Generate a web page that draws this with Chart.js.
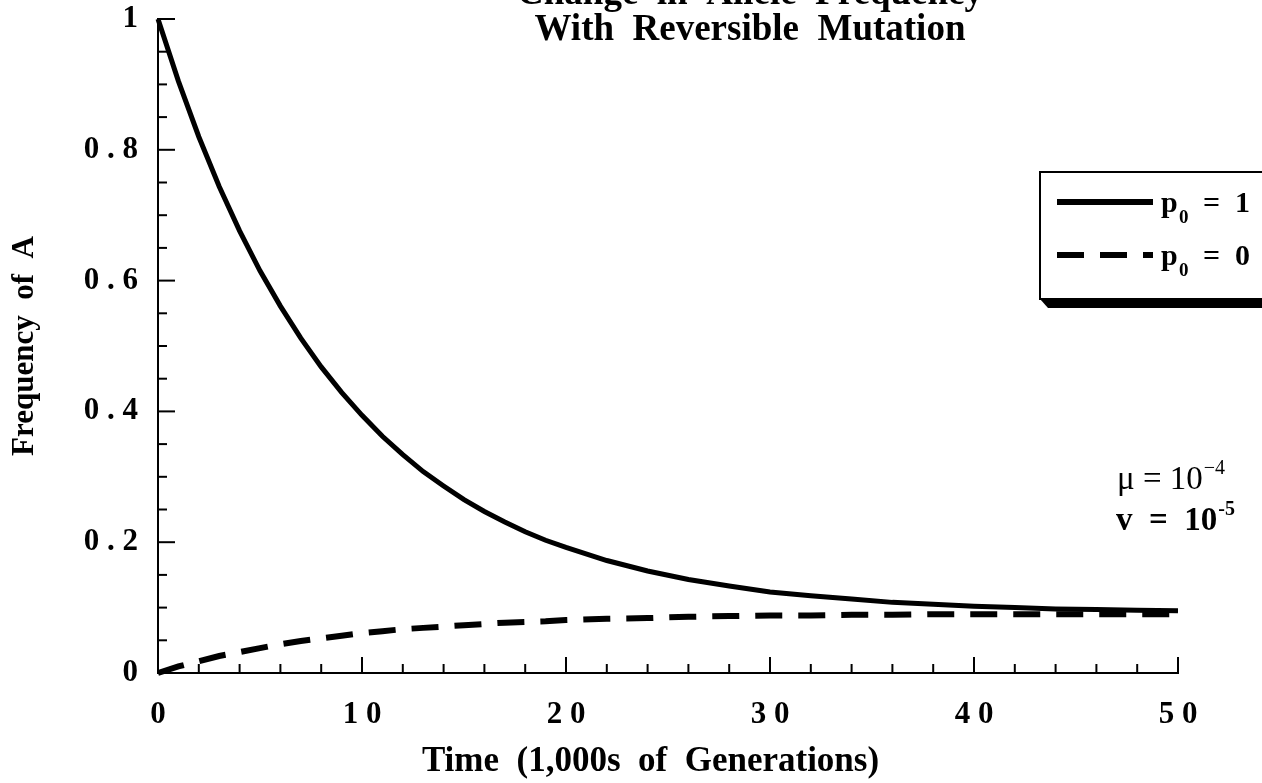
<!DOCTYPE html>
<html>
<head>
<meta charset="utf-8">
<script src="https://cdn.jsdelivr.net/npm/chart.js@4/dist/chart.umd.min.js"></script>
<style>
  html, body { margin: 0; padding: 0; background: #fff; overflow: hidden; }
  #caixa { width: 1262px; height: 783px; position: relative; }
</style>
</head>
<body>
<div id="caixa"><canvas id="grafico"></canvas></div>
<script>
// tempo em milhares de gerações
const tempo = [0, 1, 2, 3, 4, 5, 6, 7, 8, 9, 10, 11, 12, 13, 14, 15, 16, 17, 18, 19, 20,
    22, 24, 26, 28, 30, 32, 34, 36, 38, 40, 42, 44, 46, 48, 50];

// p0 = 1 (linha cheia)
const freqP1 = [1.000, 0.905, 0.820, 0.744, 0.676, 0.615, 0.561, 0.512, 0.468, 0.429, 0.394,
    0.362, 0.334, 0.308, 0.286, 0.265, 0.247, 0.231, 0.216, 0.203, 0.192,
    0.172, 0.156, 0.143, 0.133, 0.124, 0.118, 0.113, 0.108, 0.105, 0.102,
    0.100, 0.098, 0.097, 0.096, 0.095];

// p0 = 0 (tracejada)
const freqP0 = [0.000, 0.010, 0.018, 0.026, 0.032, 0.038, 0.044, 0.049, 0.053, 0.057, 0.061,
    0.064, 0.067, 0.069, 0.071, 0.073, 0.075, 0.077, 0.078, 0.079, 0.081,
    0.083, 0.084, 0.086, 0.087, 0.088, 0.088, 0.089, 0.089, 0.090, 0.090,
    0.090, 0.090, 0.090, 0.090, 0.090];

const legendas = ["1", "0"];
const titulo = ["Change  in  Allele  Frequency", "With  Reversible  Mutation"];
const tituloX = "Time  (1,000s  of  Generations)    ";
const tituloY = "Frequency  of  A";

const FONTE = "'Liberation Serif', 'Times New Roman', serif";

function espacado(txt) {
    return String(txt).split("").join(" ");
}

function comExpoente(ctx, base, exp, x, y, fonteBase, fonteExp, subida) {
    ctx.font = fonteBase;
    ctx.fillText(base, x, y);
    const w = ctx.measureText(base).width;
    ctx.font = fonteExp;
    ctx.fillText(exp, x + w + 1, y - subida);
}

// título, legenda com sombra, anotações e marcas de escala para dentro
const extras = {
    id: "extras",
    afterDraw(chart) {
        const ctx = chart.ctx;
        const x = chart.scales.x;
        const y = chart.scales.y;
        ctx.save();
        ctx.strokeStyle = "#000";
        ctx.lineWidth = 2;

        // marcas do eixo x
        x.ticks.forEach(t => {
            const px = x.getPixelForValue(t.value);
            const maior = Math.round(t.value) % 10 === 0;
            ctx.beginPath();
            ctx.moveTo(px, y.bottom);
            ctx.lineTo(px, y.bottom - (maior ? 16 : 9));
            ctx.stroke();
        });
        // marcas do eixo y
        y.ticks.forEach(t => {
            const py = y.getPixelForValue(t.value);
            const maior = Math.abs(t.value * 5 - Math.round(t.value * 5)) < 1e-6;
            ctx.beginPath();
            ctx.moveTo(x.left, py);
            ctx.lineTo(x.left + (maior ? 17 : 9), py);
            ctx.stroke();
        });

        // título (cortado no topo)
        ctx.fillStyle = "#000";
        ctx.textAlign = "center";
        ctx.textBaseline = "alphabetic";
        ctx.font = "bold 37px " + FONTE;
        ctx.fillText(titulo[0], 750, 4);
        ctx.fillText(titulo[1], 750, 40);

        // legenda
        ctx.fillStyle = "#000";
        ctx.beginPath();
        ctx.moveTo(1040, 299);
        ctx.lineTo(1048, 308);
        ctx.lineTo(1270, 308);
        ctx.lineTo(1270, 299);
        ctx.closePath();
        ctx.fill();
        ctx.fillStyle = "#fff";
        ctx.fillRect(1040, 172, 240, 127);
        ctx.lineWidth = 2;
        ctx.strokeRect(1040, 172, 240, 127);

        ctx.lineWidth = 6;
        ctx.beginPath();
        ctx.moveTo(1057, 202);
        ctx.lineTo(1153, 202);
        ctx.stroke();
        ctx.setLineDash([27, 16]);
        ctx.beginPath();
        ctx.moveTo(1057, 255);
        ctx.lineTo(1153, 255);
        ctx.stroke();
        ctx.setLineDash([]);

        ctx.fillStyle = "#000";
        ctx.textAlign = "left";
        [[212, legendas[0]], [265, legendas[1]]].forEach(([base, val]) => {
            ctx.font = "bold 30px " + FONTE;
            ctx.fillText("p", 1161, base);
            ctx.fillText("=  " + val, 1203, base);
            ctx.font = "bold 19px " + FONTE;
            ctx.fillText("0", 1179, base + 11);
        });

        // parâmetros
        comExpoente(ctx, "\u03bc = 10", "\u22124", 1117, 489,
            "33px " + FONTE, "20px " + FONTE, 15);
        comExpoente(ctx, "v  =  10", "-5", 1116, 530,
            "bold 33px " + FONTE, "bold 20px " + FONTE, 15);

        ctx.restore();
    }
};

function desenhar() {
    const ctx = document.getElementById("grafico").getContext("2d");
    new Chart(ctx, {
        type: "line",
        data: {
            datasets: [
                {
                    label: "p0 = " + legendas[0],
                    data: tempo.map((t, i) => ({ x: t, y: freqP1[i] })),
                    borderColor: "#000",
                    borderWidth: 5,
                    pointRadius: 0,
                    tension: 0,
                    clip: false
                },
                {
                    label: "p0 = " + legendas[1],
                    data: tempo.map((t, i) => ({ x: t, y: freqP0[i] })),
                    borderColor: "#000",
                    borderWidth: 6,
                    borderDash: [27, 16],
                    pointRadius: 0,
                    tension: 0,
                    clip: false
                }
            ]
        },
        options: {
            responsive: true,
            maintainAspectRatio: false,
            animation: false,
            layout: { padding: { left: 0, right: 84, top: 19, bottom: 0 } },
            plugins: {
                legend: { display: false },
                tooltip: { enabled: false }
            },
            scales: {
                x: {
                    type: "linear",
                    min: 0,
                    max: 50,
                    grid: { display: false, drawTicks: false, tickLength: 0 },
                    border: { display: true, color: "#000", width: 2 },
                    ticks: {
                        stepSize: 2,
                        autoSkip: false,
                        maxRotation: 0,
                        padding: 23,
                        color: "#000",
                        font: { family: FONTE, size: 31, weight: "bold" },
                        callback: v => (Math.round(v) % 10 === 0 ? espacado(v) : "")
                    },
                    title: {
                        display: true,
                        text: tituloX,
                        color: "#000",
                        font: { family: FONTE, size: 35, weight: "bold" },
                        padding: { top: 4, bottom: 0 }
                    },
                    afterFit: s => { s.height = 110; }
                },
                y: {
                    min: 0,
                    max: 1,
                    grid: { display: false, drawTicks: false, tickLength: 0 },
                    border: { display: true, color: "#000", width: 2 },
                    ticks: {
                        stepSize: 0.05,
                        autoSkip: false,
                        padding: 20,
                        color: "#000",
                        font: { family: FONTE, size: 31, weight: "bold" },
                        callback: v => {
                            if (Math.abs(v * 5 - Math.round(v * 5)) > 1e-6) return "";
                            const r = Math.round(v * 10) / 10;
                            return espacado(r);
                        }
                    },
                    title: {
                        display: true,
                        text: tituloY,
                        color: "#000",
                        font: { family: FONTE, size: 31, weight: "bold" },
                        padding: { top: 6, bottom: 0 }
                    },
                    afterFit: s => { s.width = 158; s.paddingTop = 0; s.paddingBottom = 0; }
                }
            }
        },
        plugins: [extras]
    });
}

document.addEventListener("DOMContentLoaded", desenhar);
</script>
</body>
</html>
